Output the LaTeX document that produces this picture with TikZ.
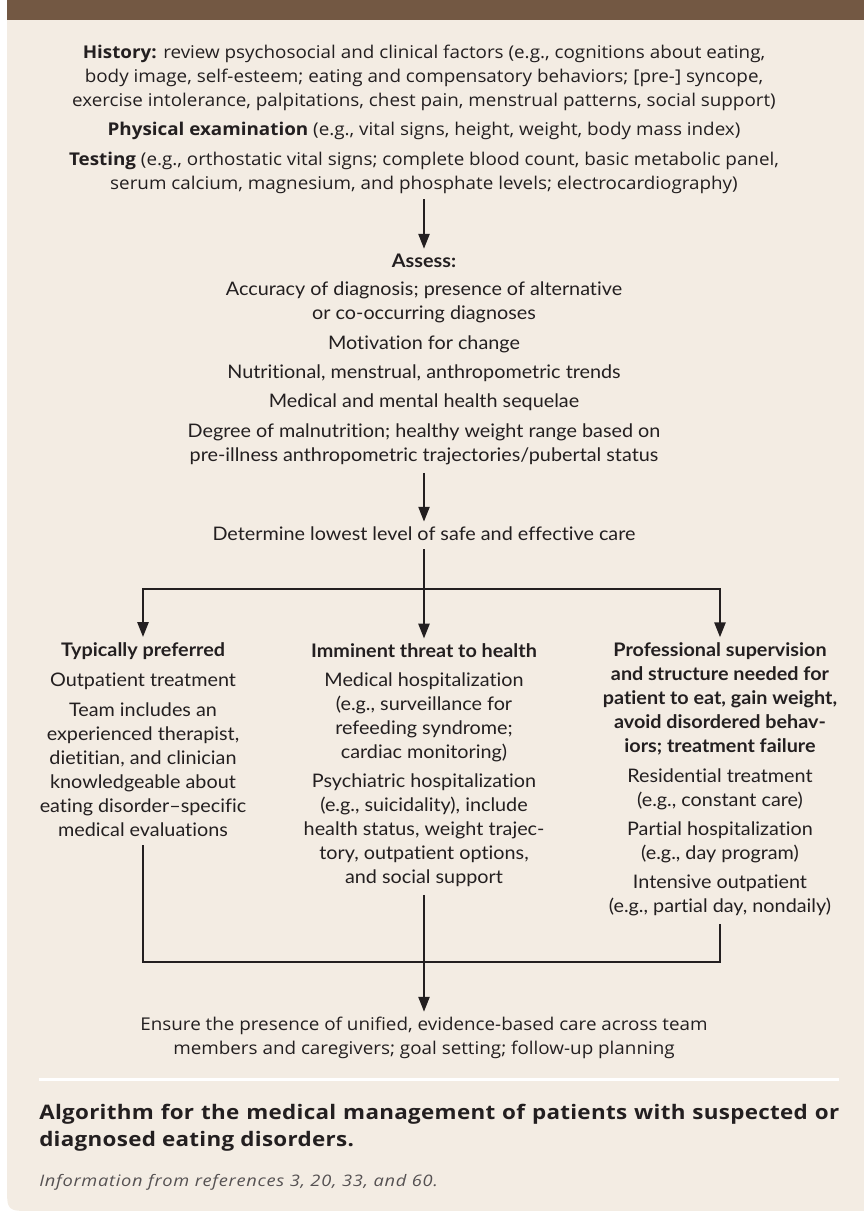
\documentclass[tikz,border=0pt]{standalone}
\usepackage{fontspec}
\setmainfont{Lato}
\newfontfamily\lato[FakeStretch=1.06, Ligatures=NoCommon]{Lato}
\newfontfamily\cond[FakeStretch=1.07]{Open Sans}
\newfontfamily\condtitle[FakeStretch=1.12, LetterSpace=1.5]{Open Sans}
\newfontfamily\condinfo[FakeStretch=1.15, LetterSpace=4.5]{Open Sans}
\usetikzlibrary{arrows.meta}
\definecolor{bgc}{HTML}{F3ECE3}
\definecolor{barc}{HTML}{735843}
\definecolor{tc}{HTML}{231F20}
\definecolor{infoc}{HTML}{555152}
\tikzset{
  mid/.style={font=\lato\fontsize{14}{18}\selectfont, align=center, inner sep=0pt, text=tc},
  midb/.style={mid, font=\lato\bfseries\fontsize{14}{18}\selectfont},
  top/.style={font=\cond\fontsize{13.2}{18}\selectfont, align=center, inner sep=0pt, text=tc},
  con/.style={draw=tc, line width=0.9pt},
  arr/.style={con, -{Triangle[length=11pt, width=8.5pt]}},
}
\begin{document}
\begin{tikzpicture}[x=0.75pt, y=-0.75pt]
\useasboundingbox (0,0) rectangle (864,1211);
% panel
\fill[bgc] (7,0) -- (864,0) -- (864,1211) -- (32,1211) .. controls (7,1211) .. (7,1186) -- cycle;
\fill[barc] (7,0) rectangle (864,20);
\draw[white, line width=2.25pt] (39,1079) -- (839,1079);

% top section
\node[top] (hist) at (424,78) {\textbf{History:} review psychosocial and clinical factors (e.g., cognitions about eating,\\ body image, self-esteem; eating and compensatory behaviors; [pre-] syncope,\\ exercise intolerance, palpitations, chest pain, menstrual patterns, social support)};
\node[top] (phys) at (424,131) {\textbf{Physical examination} (e.g., vital signs, height, weight, body mass index)};
\node[top] (test) at (424,173) {\textbf{Testing} (e.g., orthostatic vital signs; complete blood count, basic metabolic panel,\\ serum calcium, magnesium, and phosphate levels; electrocardiography)};

% assess
\node[midb] (assess) at (424,261) {Assess:};
\node[mid] (acc) at (424,302) {Accuracy of diagnosis; presence of alternative\\ or co-occurring diagnoses};
\node[mid] (mot) at (424,344) {Motivation for change};
\node[mid] (nut) at (424,373) {Nutritional, menstrual, anthropometric trends};
\node[mid] (med) at (424,402) {Medical and mental health sequelae};
\node[mid] (deg) at (424,444) {Degree of malnutrition; healthy weight range based on\\ pre-illness anthropometric trajectories/pubertal status};
\node[mid] (det) at (424,534) {Determine lowest level of safe and effective care};

% columns
\node[midb] (typ) at (143,651) {Typically preferred};
\node[mid] (outp) at (143,681) {Outpatient treatment};
\node[mid] (team) at (143,769.5) {Team includes an\\ experienced therapist,\\ dietitian, and clinician\\ knowledgeable about\\ eating disorder–specific\\ medical evaluations};

\node[midb] (imm) at (424,651) {Imminent threat to health};
\node[mid] (mhosp) at (424,717) {Medical hospitalization\\ (e.g., surveillance for\\ refeeding syndrome;\\ cardiac monitoring)};
\node[mid] (psych) at (424,830) {Psychiatric hospitalization\\ (e.g., suicidality), include\\ health status, weight trajec-\\ tory, outpatient options,\\ and social support};

\node[midb] (prof) at (720,699) {Professional supervision\\ and structure needed for\\ patient to eat, gain weight,\\ avoid disordered behav-\\ iors; treatment failure};
\node[mid] (resid) at (720,789) {Residential treatment\\ (e.g., constant care)};
\node[mid] (part) at (720,842) {Partial hospitalization\\ (e.g., day program)};
\node[mid] (intens) at (720,895) {Intensive outpatient\\ (e.g., partial day, nondaily)};

\node[top] (ens) at (424,1038) {Ensure the presence of unified, evidence-based care across team\\ members and caregivers; goal setting; follow-up planning};

% caption
\node[anchor=west, inner sep=0pt, text width=600pt, align=justify, text=tc,
      font=\condtitle\bfseries\fontsize{15}{20.25}\selectfont] (title) at (39,1128)
  {\hyphenpenalty=10000\exhyphenpenalty=10000 Algorithm for the medical management of patients with suspected or\linebreak diagnosed eating disorders.};
\node[anchor=west, inner sep=0pt, text=infoc, font=\condinfo\itshape\fontsize{11.9}{15}\selectfont] (info) at (39,1182)
  {Information from references 3, 20, 33, and 60.};

% connectors
\coordinate (jt) at (424,589);
\coordinate (jb) at (424,962);
\draw[arr, shorten <=4pt, shorten >=4pt] (test.south) -- (assess.north);
\draw[arr, shorten <=6pt, shorten >=4pt] (deg.south) -- (det.north);
\draw[con, shorten <=6pt] (det.south) -- (jt);
\draw[arr, shorten >=4pt] (jt) -| (typ.north);
\draw[arr, shorten >=4pt] (jt) -| (prof.north);
\draw[arr, shorten >=4pt] (jt) -- (imm.north);
\draw[con, shorten <=6.5pt] (team.south) |- (jb);
\draw[con, shorten >=6pt] (jb) -| (intens.south);
\draw[arr, shorten <=6pt, shorten >=4pt] (psych.south) -- (ens.north);
\end{tikzpicture}
\end{document}
